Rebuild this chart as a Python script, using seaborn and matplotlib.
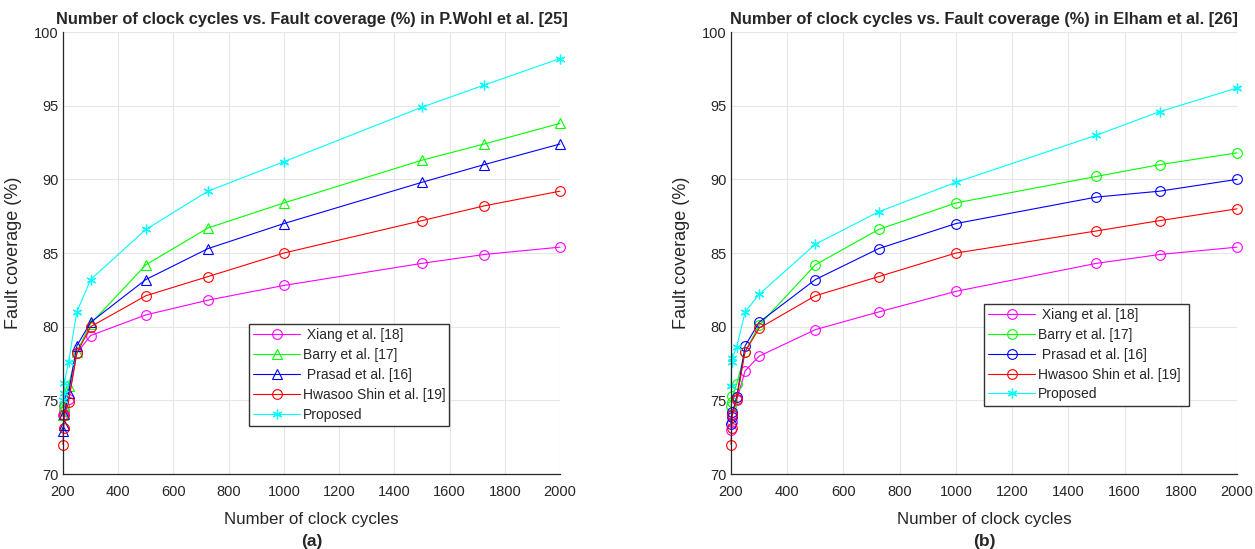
import matplotlib
matplotlib.use('Agg')
import matplotlib.pyplot as plt
import seaborn as sns
import pandas as pd

# clock cycles (x)
cycles = [200, 202, 205, 220, 250, 300, 500, 725, 1000, 1500, 1725, 2000]

# (a) P.Wohl et al. [25]
a_xiang = [74.0, 74.3, 74.6, 75.1, 78.2, 79.4, 80.8, 81.8, 82.8, 84.3, 84.9, 85.4]
a_barry = [74.0, 74.6, 74.9, 76.0, 78.3, 80.2, 84.2, 86.7, 88.4, 91.3, 92.4, 93.8]
a_prasad = [72.9, 73.3, 74.1, 75.5, 78.7, 80.3, 83.2, 85.3, 87.0, 89.8, 91.0, 92.4]
a_hwasoo = [72.0, 73.1, 74.0, 74.9, 78.2, 80.0, 82.1, 83.4, 85.0, 87.2, 88.2, 89.2]
a_proposed = [75.0, 75.5, 76.2, 77.6, 81.0, 83.2, 86.6, 89.2, 91.2, 94.9, 96.4, 98.2]

# (b) Elham et al. [26]
b_xiang = [73.0, 73.5, 74.1, 75.0, 77.0, 78.0, 79.8, 81.0, 82.4, 84.3, 84.9, 85.4]
b_barry = [74.6, 74.9, 75.3, 76.1, 78.3, 80.1, 84.2, 86.6, 88.4, 90.2, 91.0, 91.8]
b_prasad = [73.4, 73.9, 74.2, 75.2, 78.7, 80.3, 83.2, 85.3, 87.0, 88.8, 89.2, 90.0]
b_hwasoo = [72.0, 73.1, 74.0, 75.1, 78.3, 79.9, 82.1, 83.4, 85.0, 86.5, 87.2, 88.0]
b_proposed = [76.0, 77.6, 77.9, 78.6, 81.0, 82.2, 85.6, 87.8, 89.8, 93.0, 94.6, 96.2]

labels = [' Xiang et al. [18]', 'Barry et al. [17]', ' Prasad et al. [16]',
          'Hwasoo Shin et al. [19]', 'Proposed']
colors = ['#ff00ff', '#00ff00', '#0000ff', '#ff0000', '#00ffff']
markers_a = ['o', '^', '^', 'o', '*']
markers_b = ['o', 'o', 'o', 'o', '*']

titles = ['Number of clock cycles vs. Fault coverage (%) in P.Wohl et al. [25]',
          'Number of clock cycles vs. Fault coverage (%) in Elham et al. [26]']
tags = ['(a)', '(b)']

sns.set_style('white')
plt.rcParams['font.family'] = ['Liberation Sans', 'DejaVu Sans']

fig = plt.figure(figsize=(12.55, 5.49), dpi=100)
ax1 = fig.add_axes([0.0502, 0.1366, 0.396, 0.805])
ax2 = fig.add_axes([0.5825, 0.1366, 0.4032, 0.805])

# legend boxes (x0, top, width) in axes fraction
panels = [(ax1, [a_xiang, a_barry, a_prasad, a_hwasoo, a_proposed], markers_a,
           (0.374, 0.339, 0.402)),
          (ax2, [b_xiang, b_barry, b_prasad, b_hwasoo, b_proposed], markers_b,
           (0.5, 0.385, 0.405))]

for k, (ax, series, mks, lg) in enumerate(panels):
    for vals, lab, col, mk in zip(series, labels, colors, mks):
        df = pd.DataFrame({'x': cycles, 'y': vals})
        if mk == '*':
            sns.lineplot(data=df, x='x', y='y', ax=ax, color=col, lw=0.8,
                         marker=(6, 2, 0), markersize=7, markeredgecolor=col,
                         markeredgewidth=0.9, label=lab, clip_on=False)
        else:
            sns.lineplot(data=df, x='x', y='y', ax=ax, color=col, lw=0.8,
                         marker=mk, markersize=7, markerfacecolor='none',
                         markeredgecolor=col, markeredgewidth=0.8, label=lab,
                         clip_on=False)
    ax.set_xlim(200, 2000)
    ax.set_ylim(70, 100)
    ax.set_xticks(range(200, 2001, 200))
    ax.set_yticks(range(70, 101, 5))
    ax.grid(True, color='#e6e6e6', lw=0.8)
    for s in ['top', 'right']:
        ax.spines[s].set_visible(False)
    for s in ['left', 'bottom']:
        ax.spines[s].set_color('#262626')
        ax.spines[s].set_linewidth(0.9)
    ax.tick_params(direction='in', length=4, width=0.8, labelsize=10.5,
                   labelcolor='#262626', colors='#262626')
    ax.tick_params(axis='x', pad=8)
    ax.tick_params(axis='y', pad=3)
    ax.set_title(titles[k], fontsize=11.8, fontweight='bold', pad=6)
    ax.set_xlabel('Number of clock cycles', fontsize=12.2, color='#262626')
    ax.xaxis.set_label_coords(0.5, -0.085)
    ax.set_ylabel('Fault coverage (%)', fontsize=13, color='#262626')
    ax.yaxis.set_label_coords(-0.083 if k == 0 else -0.082, 0.5)
    ax.text(0.5, -0.152, tags[k], transform=ax.transAxes, ha='center',
            va='center', fontsize=12.5, fontweight='bold')
    leg = ax.legend(loc='upper left', bbox_to_anchor=(lg[0], 0.0, lg[2], lg[1]),
                    mode='expand', fontsize=10, frameon=True, fancybox=False,
                    handlelength=3.4, handletextpad=0.2, borderpad=0.3,
                    labelspacing=0.42, borderaxespad=0)
    leg.get_frame().set_edgecolor('#333333')
    leg.get_frame().set_linewidth(1.0)
    leg.get_frame().set_alpha(1)
    leg.set_zorder(5)

fig.savefig('out.png', dpi=100)
